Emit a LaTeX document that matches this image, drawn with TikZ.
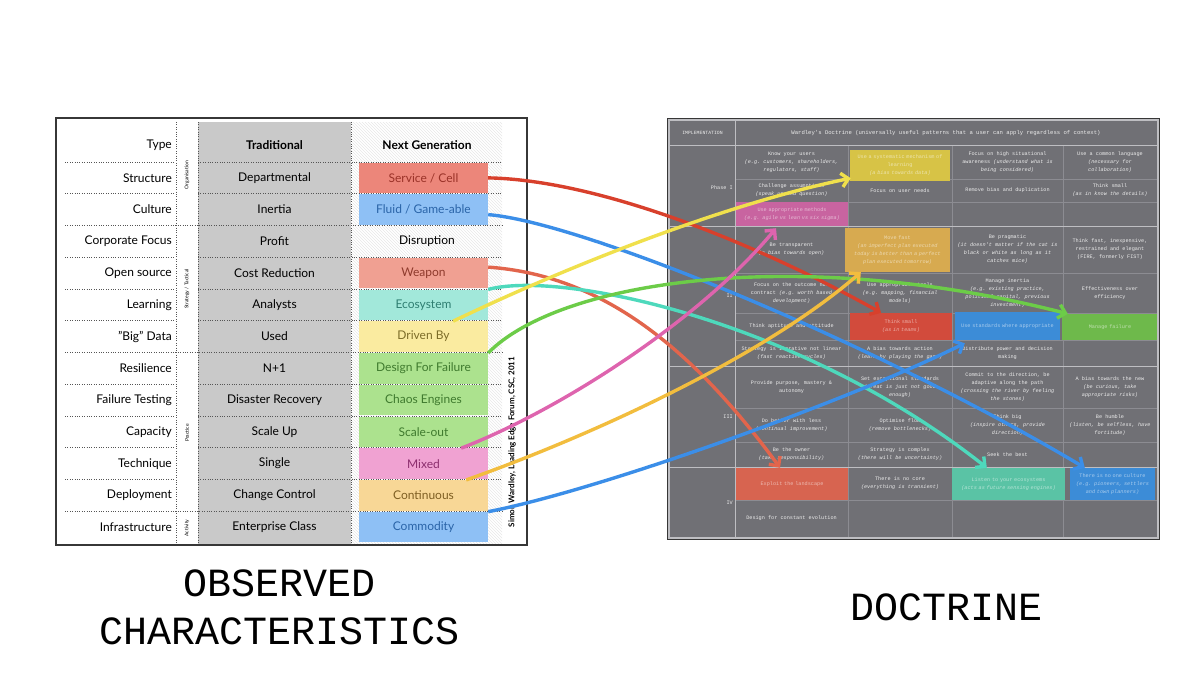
\documentclass[tikz,border=0pt]{standalone}
\usepackage{fontspec}
\setmainfont{Lato}
\setmonofont{Liberation Mono}
\usetikzlibrary{arrows.meta, patterns, calc}
\definecolor{framegray}{RGB}{55, 55, 55}
\definecolor{tradgray}{RGB}{201, 201, 201}
\definecolor{dotgray}{RGB}{85, 85, 85}
\definecolor{docgray}{RGB}{112, 112, 117}
\definecolor{docline}{RGB}{140, 140, 146}
\definecolor{docsep}{RGB}{190, 190, 194}
\definecolor{doctext}{RGB}{236, 236, 236}
% next generation fills and texts
\definecolor{ngred}{RGB}{236, 134, 122}
\definecolor{ngblue}{RGB}{142, 192, 245}
\definecolor{ngsalmon}{RGB}{240, 160, 146}
\definecolor{ngteal}{RGB}{162, 232, 218}
\definecolor{ngyellow}{RGB}{250, 235, 160}
\definecolor{nggreen}{RGB}{172, 226, 142}
\definecolor{ngpink}{RGB}{240, 162, 210}
\definecolor{ngorange}{RGB}{248, 215, 150}
\definecolor{tred}{RGB}{154, 50, 40}
\definecolor{tblue}{RGB}{42, 100, 168}
\definecolor{tsalmon}{RGB}{142, 58, 44}
\definecolor{tteal}{RGB}{47, 127, 114}
\definecolor{tyellow}{RGB}{124, 108, 40}
\definecolor{tgreen}{RGB}{63, 122, 46}
\definecolor{tpink}{RGB}{140, 46, 110}
\definecolor{torange}{RGB}{126, 94, 34}
% doctrine highlights
\definecolor{dyellow}{RGB}{215, 195, 70}
\definecolor{dpink}{RGB}{200, 100, 160}
\definecolor{dorange}{RGB}{215, 170, 80}
\definecolor{dred}{RGB}{210, 75, 60}
\definecolor{dblue}{RGB}{60, 140, 215}
\definecolor{dgreen}{RGB}{110, 185, 75}
\definecolor{dexploit}{RGB}{215, 100, 80}
\definecolor{dteal}{RGB}{90, 195, 165}
% connectors
\definecolor{lred}{RGB}{216, 64, 44}
\definecolor{lblue}{RGB}{59, 142, 232}
\definecolor{lsalmon}{RGB}{226, 101, 76}
\definecolor{lteal}{RGB}{78, 217, 188}
\definecolor{lyellow}{RGB}{240, 224, 76}
\definecolor{lgreen}{RGB}{108, 204, 72}
\definecolor{lpink}{RGB}{222, 100, 174}
\definecolor{lorange}{RGB}{242, 189, 62}

\tikzset{
  rowlabel/.style={anchor=east, inner sep=0pt, font=\fontsize{12}{14}\selectfont},
  tradcell/.style={inner sep=0pt, font=\fontsize{12}{14}\selectfont},
  nextbox/.style={minimum width=129pt, minimum height=30.5pt, inner sep=0pt, font=\fontsize{12}{14}\selectfont},
  catlabel/.style={rotate=90, inner sep=0pt, font=\fontsize{5}{6}\selectfont},
  sepline/.style={dotgray, line width=0.8pt, dash pattern=on 0.8pt off 1.6pt},
  doccell/.style={text=doctext, align=center, inner sep=0pt, font=\ttfamily\fontsize{5.2}{8}\selectfont},
  docbox/.style={doccell, draw=none, minimum width=#1, text width=#1-4pt},
  dochead/.style={text=doctext, inner sep=0pt, font=\ttfamily\fontsize{5.6}{7}\selectfont},
  link/.style={line width=3.4pt, -{Straight Barb[length=7pt, width=14pt]}},
  bigcaption/.style={align=center, inner sep=0pt, font=\ttfamily\fontsize{40}{48}\selectfont}
}

\begin{document}
\begin{tikzpicture}[x=1pt, y=-1pt]
\useasboundingbox (0,0) rectangle (1200,675);
\fill[white] (0,0) rectangle (1200,675);

% observed characteristics
\fill[tradgray] (198,122) rectangle (351,545);
\fill[white] (351,122) rectangle (502,545);
\fill[pattern=north west lines, pattern color=black!9] (351,122) rectangle (502,545);

\node[rowlabel] (type) at (172,145) {Type};
\node[tradcell, font=\fontsize{12}{14}\selectfont\bfseries] (traditional) at (274.5,145) {Traditional};
\node[tradcell, font=\fontsize{12}{14}\selectfont\bfseries] (nextgen) at (427,145) {Next Generation};

\foreach \i/\lab/\trad in {0/Structure/Departmental, 1/Culture/Inertia, 2/Corporate Focus/Profit,
    3/Open source/Cost Reduction, 4/Learning/Analysts, 5/"Big" Data/Used, 6/Resilience/N+1,
    7/Failure Testing/Disaster Recovery, 8/Capacity/Scale Up, 9/Technique/Single,
    10/Deployment/Change Control, 11/Infrastructure/Enterprise Class}{
  \node[rowlabel] (lab\i) at (172,{177.875+31.75*\i}) {\lab};
  \node[tradcell] (trad\i) at (274.5,{177.875+31.75*\i}) {\trad};
}

\foreach \i/\nm/\txt/\col/\tc in {0/service/{Service / Cell}/ngred/tred, 1/fluid/{Fluid / Game-able}/ngblue/tblue,
    3/weapon/Weapon/ngsalmon/tsalmon, 4/ecosystem/Ecosystem/ngteal/tteal, 5/drivenby/{Driven By}/ngyellow/tyellow,
    6/design/{Design For Failure}/nggreen/tgreen, 7/chaos/{Chaos Engines}/nggreen/tgreen,
    8/scaleout/Scale-out/nggreen/tgreen, 9/mixed/Mixed/ngpink/tpink, 10/continuous/Continuous/ngorange/torange,
    11/commodity/Commodity/ngblue/tblue}{
  \node[nextbox, fill=\col, text=\tc] (\nm) at (423.5,{177.875+31.75*\i}) {\txt};
}
\node[tradcell] (disruption) at (427,241.375) {Disruption};

% dotted grid
\foreach \k in {0,1,3,4,5,7,8,9,10}{
  \draw[sepline] (65,{162+31.75*\k}) -- (175,{162+31.75*\k});
  \draw[sepline] (198,{162+31.75*\k}) -- (502,{162+31.75*\k});
}
\foreach \k in {2,6,11}
  \draw[sepline] (65,{162+31.75*\k}) -- (502,{162+31.75*\k});
\foreach \x in {176,198,351}
  \draw[sepline] (\x,122) -- (\x,545);

\node[catlabel] (organisation) at (187,175) {Organisation};
\node[catlabel] (strategy) at (187,289) {Strategy / Tactical};
\node[catlabel] (practice) at (187,433) {Practice};
\node[catlabel] (activity) at (187,528) {Activity};

\node[rotate=90, inner sep=0pt, font=\fontsize{8}{9}\selectfont\bfseries] (credit) at (512,442) {Simon Wardley, Leading Edge Forum, CSC, 2011};
\draw[framegray, line width=1.5pt] (56,118) rectangle (527,545);

% doctrine table
\fill[docgray] (670,121) rectangle (1157,537);
\foreach \y in {179,202,273,313,340,408,442,500}
  \draw[docline, line width=0.6pt] (735,\y) -- (1157,\y);
\foreach \x in {848,952,1063}
  \draw[docline, line width=0.6pt] (\x,145) -- (\x,537);

\node[docbox=100pt, fill=dyellow, minimum height=31pt, text=dyellow!45!white] (systematic) at (900,165.5)
  {Use a systematic mechanism of\\learning\\\textit{(a bias towards data)}};
\node[docbox=112pt, fill=dpink, minimum height=24pt, text=dpink!45!white] (methods) at (792,214)
  {Use appropriate methods\\\textit{(e.g. agile vs lean vs six sigma)}};
\node[docbox=105pt, fill=dorange, minimum height=44pt, text=dorange!45!white] (movefast) at (897.5,250)
  {Move fast\\\textit{(an imperfect plan executed}\\\textit{today is better than a perfect}\\\textit{plan executed tomorrow)}};
\node[docbox=102pt, fill=dred, minimum height=27pt, text=dred!45!white] (thinksmall) at (901,326.5)
  {Think small\\\textit{(as in teams)}};
\node[docbox=105pt, fill=dblue, minimum height=28pt, text=dblue!45!white] (standards) at (1007.5,326)
  {Use standards where appropriate};
\node[docbox=96pt, fill=dgreen, minimum height=26pt, text=dgreen!45!white] (managefail) at (1110,327)
  {Manage failure};
\node[docbox=112pt, fill=dexploit, minimum height=32pt, text=dexploit!45!white] (exploit) at (792,484)
  {Exploit the landscape};
\node[docbox=113pt, fill=dteal, minimum height=32pt, text=dteal!45!white] (listen) at (1008.5,484)
  {Listen to your ecosystems\\\textit{(acts as future sensing engines)}};
\node[docbox=85pt, fill=dblue, minimum height=32pt, text=dblue!45!white] (noculture) at (1112.5,484)
  {There is no one culture\\\textit{(e.g. pioneers, settlers}\\\textit{and town planners)}};

\draw[docsep, line width=1pt] (670,145) -- (1157,145) (670,226) -- (1157,226)
  (670,366) -- (1157,366) (670,467) -- (1157,467) (735,121) -- (735,537);
\draw[docsep, line width=1.2pt] (669,120) rectangle (1158,538);
\draw[framegray, line width=0.8pt] (667.5,118.5) rectangle (1159.5,539.5);

\node[dochead, font=\ttfamily\fontsize{4.8}{6}\selectfont] (implementation) at (702.5,133) {IMPLEMENTATION};
\node[dochead] (doctrinehead) at (946,133) {Wardley's Doctrine (universally useful patterns that a user can apply regardless of context)};
\node[doccell, anchor=east] (phase1) at (733,188) {Phase I};
\node[doccell, anchor=east] (phase2) at (733,296) {II};
\node[doccell, anchor=east] (phase3) at (733,417) {III};
\node[doccell, anchor=east] (phase4) at (733,503) {IV};

\node[doccell] (knowusers) at (791.5,162) {Know your users\\\textit{(e.g. customers, shareholders,}\\\textit{regulators, staff)}};
\node[doccell] (awareness) at (1007.5,162) {Focus on high situational\\awareness \textit{(understand what is}\\\textit{being considered)}};
\node[doccell] (language) at (1110,162) {Use a common language\\\textit{(necessary for}\\\textit{collaboration)}};
\node[doccell] (challenge) at (791.5,190.5) {Challenge assumptions\\\textit{(speak up and question)}};
\node[doccell] (userneeds) at (900,190.5) {Focus on user needs};
\node[doccell] (removebias) at (1007.5,190.5) {Remove bias and duplication};
\node[doccell] (details) at (1110,190.5) {Think small\\\textit{(as in know the details)}};

\node[doccell] (transparent) at (791.5,249.5) {Be transparent\\\textit{(a bias towards open)}};
\node[doccell] (pragmatic) at (1007.5,249.5) {Be pragmatic\\\textit{(it doesn't matter if the cat is}\\\textit{black or white as long as it}\\\textit{catches mice)}};
\node[doccell] (thinkfast) at (1110,249.5) {Think fast, inexpensive,\\restrained and elegant\\(FIRE, formerly FIST)};
\node[doccell] (outcome) at (791.5,293) {Focus on the outcome not\\contract \textit{(e.g. worth based}\\\textit{development)}};
\node[doccell] (tools) at (900,293) {Use appropriate tools\\\textit{(e.g. mapping, financial}\\\textit{models)}};
\node[doccell] (inertia) at (1007.5,293) {Manage inertia\\\textit{(e.g. existing practice,}\\\textit{political capital, previous}\\\textit{investment)}};
\node[doccell] (effective) at (1110,293) {Effectiveness over\\efficiency};
\node[doccell] (aptitude) at (791.5,326.5) {Think aptitude and attitude};
\node[doccell] (iterative) at (791.5,353) {Strategy is iterative not linear\\\textit{(fast reactive cycles)}};
\node[doccell] (action) at (900,353) {A bias towards action\\\textit{(learn by playing the game)}};
\node[doccell] (distribute) at (1007.5,353) {Distribute power and decision\\making};

\node[doccell] (purpose) at (791.5,387) {Provide purpose, mastery \&\\autonomy};
\node[doccell] (exceptional) at (900,387) {Set exceptional standards\\\textit{(great is just not good}\\\textit{enough)}};
\node[doccell] (commit) at (1007.5,387) {Commit to the direction, be\\adaptive along the path\\\textit{(crossing the river by feeling}\\\textit{the stones)}};
\node[doccell] (biasnew) at (1110,387) {A bias towards the new\\\textit{(be curious, take}\\\textit{appropriate risks)}};
\node[doccell] (dobetter) at (791.5,425) {Do better with less\\\textit{(continual improvement)}};
\node[doccell] (flow) at (900,425) {Optimise flow\\\textit{(remove bottlenecks)}};
\node[doccell] (thinkbig) at (1007.5,425) {Think big\\\textit{(inspire others, provide}\\\textit{direction)}};
\node[doccell] (humble) at (1110,425) {Be humble\\\textit{(listen, be selfless, have}\\\textit{fortitude)}};
\node[doccell] (owner) at (791.5,454.5) {Be the owner\\\textit{(take responsibility)}};
\node[doccell] (complex) at (900,454.5) {Strategy is complex\\\textit{(there will be uncertainty)}};
\node[doccell] (seekbest) at (1007.5,454.5) {Seek the best};
\node[doccell] (nocore) at (900,483.5) {There is no core\\\textit{(everything is transient)}};
\node[doccell] (evolution) at (791.5,518.5) {Design for constant evolution};

% captions
\node[bigcaption] (observed) at (280,607) {OBSERVED\\CHARACTERISTICS};
\node[bigcaption] (doctrine) at (947,607) {DOCTRINE};

% connectors
\draw[link, lred] (service.east) .. controls (600,180) and (760,245) .. ($(thinksmall.north)+(-20,0)$);
\draw[link, lblue] ($(fluid.east)+(0,5)$) .. controls (580,222) and (870,340) .. ($(noculture.north west)+(15,0)$);
\draw[link, lsalmon] ($(weapon.east)+(0,-6)$) .. controls (600,275) and (690,345) .. ($(exploit.north)+(-12,0)$);
\draw[link, lteal] (ecosystem.north east) .. controls (560,270) and (800,320) .. ($(listen.north west)+(35,0)$);
\draw[link, lyellow] ($(drivenby.north east)+(-35,0)$) .. controls (560,270) and (720,205) .. ($(systematic.south west)+(1,-3)$);
\draw[link, lgreen] (design.north east) .. controls (560,280) and (800,245) .. ($(managefail.north west)+(6,0)$);
\draw[link, lpink] ($(mixed.north east)+(-27,0)$) .. controls (560,410) and (700,320) .. ($(methods.south)+(-16,2)$);
\draw[link, lorange] ($(continuous.north east)+(-22,0)$) .. controls (580,440) and (760,360) .. ($(movefast.south west)+(16,0)$);
\draw[link, lblue] (commodity.north east) .. controls (600,490) and (850,400) .. ($(standards.south west)+(10,3)$);
\end{tikzpicture}
\end{document}
